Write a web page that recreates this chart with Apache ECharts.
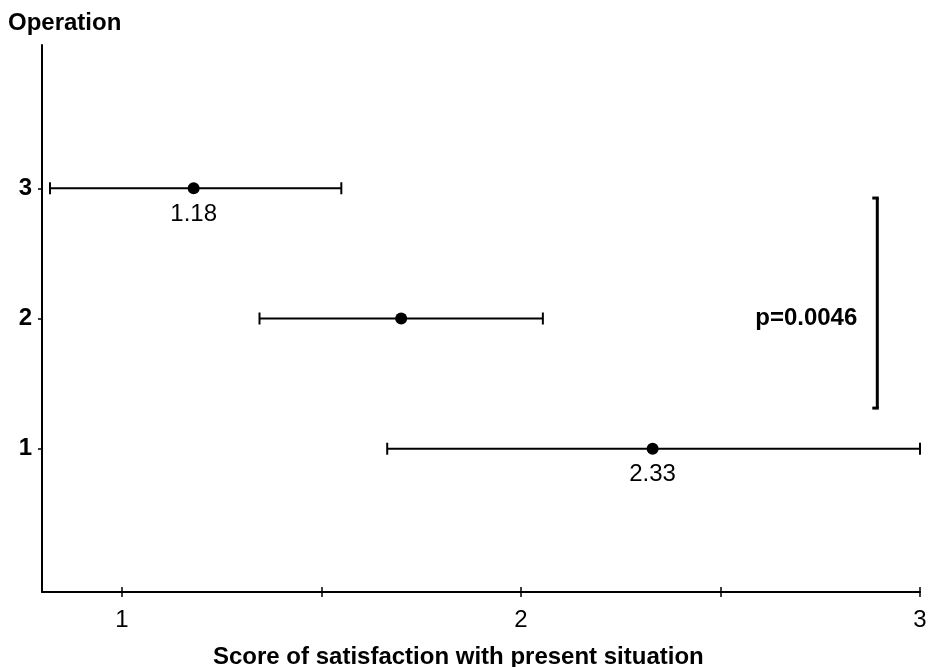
<!DOCTYPE html>
<html><head><meta charset="utf-8">
<script src="https://cdn.jsdelivr.net/npm/echarts@6/dist/echarts.min.js"></script>
<style>html,body{margin:0;padding:0;background:#fff}#c{width:931px;height:667px}</style>
</head><body><div id="c"></div>
<script>
const groups = [3, 2, 1];
const means = [1.18, 1.70, 2.33];
const lower = [0.82, 1.345, 1.665];
const upper = [1.55, 2.055, 3.0];
const meanLabels = ['1.18', '', '2.33'];
const xTickValues = [1, 1.5, 2, 2.5, 3];
const xLabelValues = [1, 2, 3];
const yTickValues = [1, 2, 3];
const bracket = {x: 2.893, from: 2.925, to: 1.312, textY: 2, text: 'p=0.0046'};
const yTitle = 'Operation';
const xTitle = 'Score of satisfaction with present situation';

const font = 'Liberation Sans, Arial, sans-serif';
const chart = echarts.init(document.getElementById('c'));
chart.setOption({
  animation: false,
  grid: {left: 42, right: 11, top: 45, bottom: 75, containLabel: false, outerBoundsMode: 'none'},
  title: [
    {text: yTitle, left: 3, top: 6, textStyle: {fontFamily: font, fontSize: 24, fontWeight: 'bold', color: '#000'}},
    {text: xTitle, left: 208, top: 640, textStyle: {fontFamily: font, fontSize: 24, fontWeight: 'bold', color: '#000'}}
  ],
  xAxis: [{
    type: 'value', min: 0.8, max: 3.0,
    axisLine: {onZero: false, lineStyle: {color: '#000', width: 2}},
    axisTick: {show: true, length: 5, customValues: xTickValues, lineStyle: {color: '#000', width: 1.5}},
    axisLabel: {customValues: xLabelValues, margin: 16, fontFamily: font, fontSize: 24, color: '#000'},
    splitLine: {show: false}
  }, {
    type: 'value', min: 0.8, max: 3.0, position: 'bottom',
    axisLine: {show: false, onZero: false},
    axisTick: {show: true, inside: true, length: 5, customValues: xTickValues, lineStyle: {color: '#000', width: 1.5}},
    axisLabel: {show: false},
    splitLine: {show: false}
  }],
  yAxis: {
    type: 'value', min: -0.1, max: 4.1,
    axisLine: {show: true, onZero: false, lineStyle: {color: '#000', width: 2}},
    axisTick: {show: true, length: 4, customValues: yTickValues, lineStyle: {color: '#000', width: 1.5}},
    axisLabel: {customValues: yTickValues, margin: 10, fontFamily: font, fontSize: 24, fontWeight: 'bold', color: '#000'},
    splitLine: {show: false}
  },
  series: [
    {
      type: 'custom',
      data: groups.map((g, i) => [lower[i], upper[i], g]),
      renderItem: function (params, api) {
        const a = api.coord([api.value(0), api.value(2)]);
        const b = api.coord([api.value(1), api.value(2)]);
        const h = 6;
        const st = {stroke: '#000', lineWidth: 2};
        return {type: 'group', children: [
          {type: 'line', shape: {x1: a[0], y1: a[1], x2: b[0], y2: b[1]}, style: st},
          {type: 'line', shape: {x1: a[0], y1: a[1] - h, x2: a[0], y2: a[1] + h}, style: st},
          {type: 'line', shape: {x1: b[0], y1: b[1] - h, x2: b[0], y2: b[1] + h}, style: st}
        ]};
      },
      z: 2
    },
    {
      type: 'scatter',
      data: groups.map((g, i) => ({value: [means[i], g], label: {show: meanLabels[i] !== '', formatter: meanLabels[i]}})),
      symbol: 'circle', symbolSize: 12,
      itemStyle: {color: '#000', opacity: 1},
      label: {position: 'bottom', distance: 8, fontFamily: font, fontSize: 24, color: '#000'},
      z: 3
    },
    {
      type: 'custom',
      data: [[bracket.x, bracket.from, bracket.to, bracket.textY]],
      renderItem: function (params, api) {
        const a = api.coord([api.value(0), api.value(1)]);
        const b = api.coord([api.value(0), api.value(2)]);
        const t = api.coord([api.value(0), api.value(3)]);
        const st = {stroke: '#000', lineWidth: 3};
        const w = 5;
        return {type: 'group', children: [
          {type: 'line', shape: {x1: a[0], y1: a[1], x2: b[0], y2: b[1]}, style: st},
          {type: 'line', shape: {x1: a[0] - w, y1: a[1], x2: a[0] + 1.5, y2: a[1]}, style: st},
          {type: 'line', shape: {x1: b[0] - w, y1: b[1], x2: b[0] + 1.5, y2: b[1]}, style: st},
          {type: 'text', x: a[0] - 20, y: t[1], style: {text: bracket.text, align: 'right', verticalAlign: 'middle', font: 'bold 24px ' + font, fill: '#000'}}
        ]};
      }
    }
  ]
});
</script></body></html>
